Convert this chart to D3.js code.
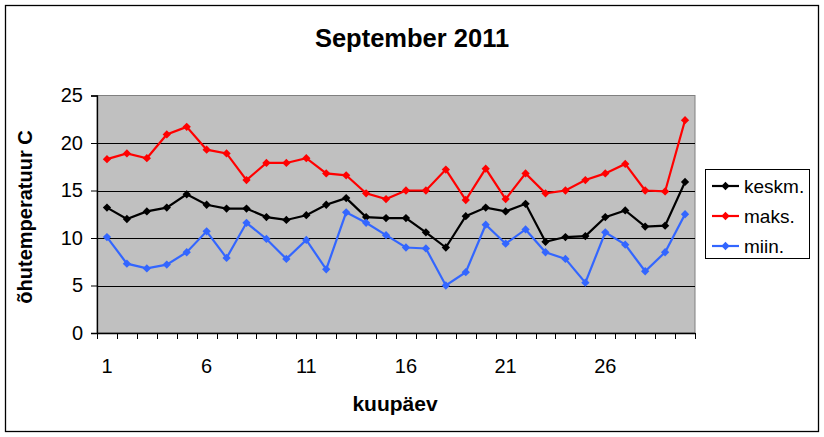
<!DOCTYPE html>
<html><head><meta charset="utf-8">
<script src="https://cdn.jsdelivr.net/npm/d3@7"></script>
<style>body{margin:0;background:#fff}svg{display:block}text{font-family:"Liberation Sans",Arial,sans-serif}</style>
</head><body>
<svg id="c" width="824" height="437"></svg>
<script>
const days = d3.range(1, 31);
const keskm = [13.2,12.0,12.8,13.2,14.6,13.5,13.1,13.1,12.2,11.9,12.4,13.5,14.2,12.2,12.1,12.1,10.6,9.0,12.3,13.2,12.8,13.6,9.6,10.1,10.2,12.2,12.9,11.2,11.3,15.9];
const maks  = [18.3,18.9,18.4,20.9,21.7,19.3,18.9,16.1,17.9,17.9,18.4,16.8,16.6,14.7,14.1,15.0,15.0,17.2,14.0,17.3,14.1,16.8,14.7,15.0,16.1,16.8,17.8,15.0,14.9,22.4];
const miin  = [10.1,7.3,6.8,7.2,8.5,10.7,7.9,11.6,9.9,7.8,9.8,6.7,12.7,11.6,10.3,9.0,8.9,5.0,6.4,11.4,9.4,10.9,8.5,7.8,5.3,10.6,9.3,6.5,8.5,12.5];
const yTicks = [0,5,10,15,20,25];
const xTickLabels = [1,6,11,16,21,26];
const seriesNames = ["keskm.","maks.","miin."];
const seriesColors = ["#000000","#ff0000","#3366ff"];
const series = [keskm, maks, miin];

const svg = d3.select("#c");
const L = 97, R = 695, T = 95.5, B = 333;

svg.append("rect").attr("x",5.5).attr("y",5.5).attr("width",813).attr("height",426)
  .attr("fill","#fff").attr("stroke","#000").attr("stroke-width",1.3);

const x = d3.scaleBand().domain(days).range([L, R]);
const y = d3.scaleLinear().domain([0,25]).range([B, T]);

svg.append("rect").attr("x",L).attr("y",T).attr("width",R-L).attr("height",B-T)
  .attr("fill","#c0c0c0").attr("stroke","#808080").attr("stroke-width",1);

svg.append("g").selectAll("line").data(yTicks.filter(d=>d>0&&d<25)).join("line")
  .attr("x1",L).attr("x2",R).attr("y1",d=>Math.round(y(d))+0.5).attr("y2",d=>Math.round(y(d))+0.5)
  .attr("stroke","#000").attr("stroke-width",1);

// y axis
const ya = svg.append("g").attr("transform",`translate(${L},0)`)
  .call(d3.axisLeft(y).tickValues(yTicks).tickSize(6).tickPadding(8));
ya.select(".domain").attr("stroke","#000").attr("stroke-width",1.3);
ya.selectAll("text").attr("font-size",20).attr("fill","#000").style("font-family","'Liberation Sans',Arial,sans-serif");

// x axis
const xa = svg.append("g").attr("transform",`translate(0,${B})`)
  .call(d3.axisBottom(x).tickValues([]).tickSizeOuter(0));
xa.select(".domain").attr("stroke","#000").attr("stroke-width",1.3);
const bounds = d3.range(0, days.length+1).map(i => L + i*x.step());
xa.selectAll("line.tk").data(bounds).join("line").attr("class","tk")
  .attr("x1",d=>Math.round(d)+0.5).attr("x2",d=>Math.round(d)+0.5).attr("y1",0).attr("y2",6).attr("stroke","#000");
xa.selectAll("text.lb").data(xTickLabels).join("text").attr("class","lb")
  .attr("x",d=>x(d)+x.bandwidth()/2).attr("y",40).attr("text-anchor","middle")
  .attr("font-size",20).attr("fill","#000").text(d=>d);

// lines
const diamond = d3.symbol().type(d3.symbolDiamond2).size(44);
series.forEach((s,i)=>{
  const line = d3.line().x((d,j)=>x(days[j])+x.bandwidth()/2).y(d=>y(d));
  svg.append("path").datum(s).attr("d",line).attr("fill","none")
    .attr("stroke",seriesColors[i]).attr("stroke-width",2.2).attr("stroke-linejoin","miter");
  svg.append("g").selectAll("path").data(s).join("path")
    .attr("transform",(d,j)=>`translate(${x(days[j])+x.bandwidth()/2},${y(d)})`)
    .attr("d",diamond).attr("fill",seriesColors[i]);
});

// titles
svg.append("text").attr("x",412).attr("y",47).attr("text-anchor","middle")
  .attr("font-size",25.5).attr("font-weight","bold").text("September 2011");
svg.append("text").attr("x",395).attr("y",411).attr("text-anchor","middle")
  .attr("font-size",21).attr("font-weight","bold").text("kuupäev");
svg.append("text").attr("transform","translate(32,217) rotate(-90)").attr("text-anchor","middle")
  .attr("font-size",20).attr("font-weight","bold").text("õhutemperatuur C");

// legend
const lg = svg.append("g");
lg.append("rect").attr("x",705.5).attr("y",169.5).attr("width",104).attr("height",89)
  .attr("fill","#fff").attr("stroke","#000").attr("stroke-width",1);
seriesNames.forEach((n,i)=>{
  const yy = 186 + i*30;
  lg.append("line").attr("x1",712).attr("x2",739).attr("y1",yy).attr("y2",yy)
    .attr("stroke",seriesColors[i]).attr("stroke-width",2.2);
  lg.append("path").attr("transform",`translate(725.5,${yy})`).attr("d",diamond).attr("fill",seriesColors[i]);
  lg.append("text").attr("x",744).attr("y",yy+7).attr("font-size",19).text(n);
});
</script>
</body></html>
